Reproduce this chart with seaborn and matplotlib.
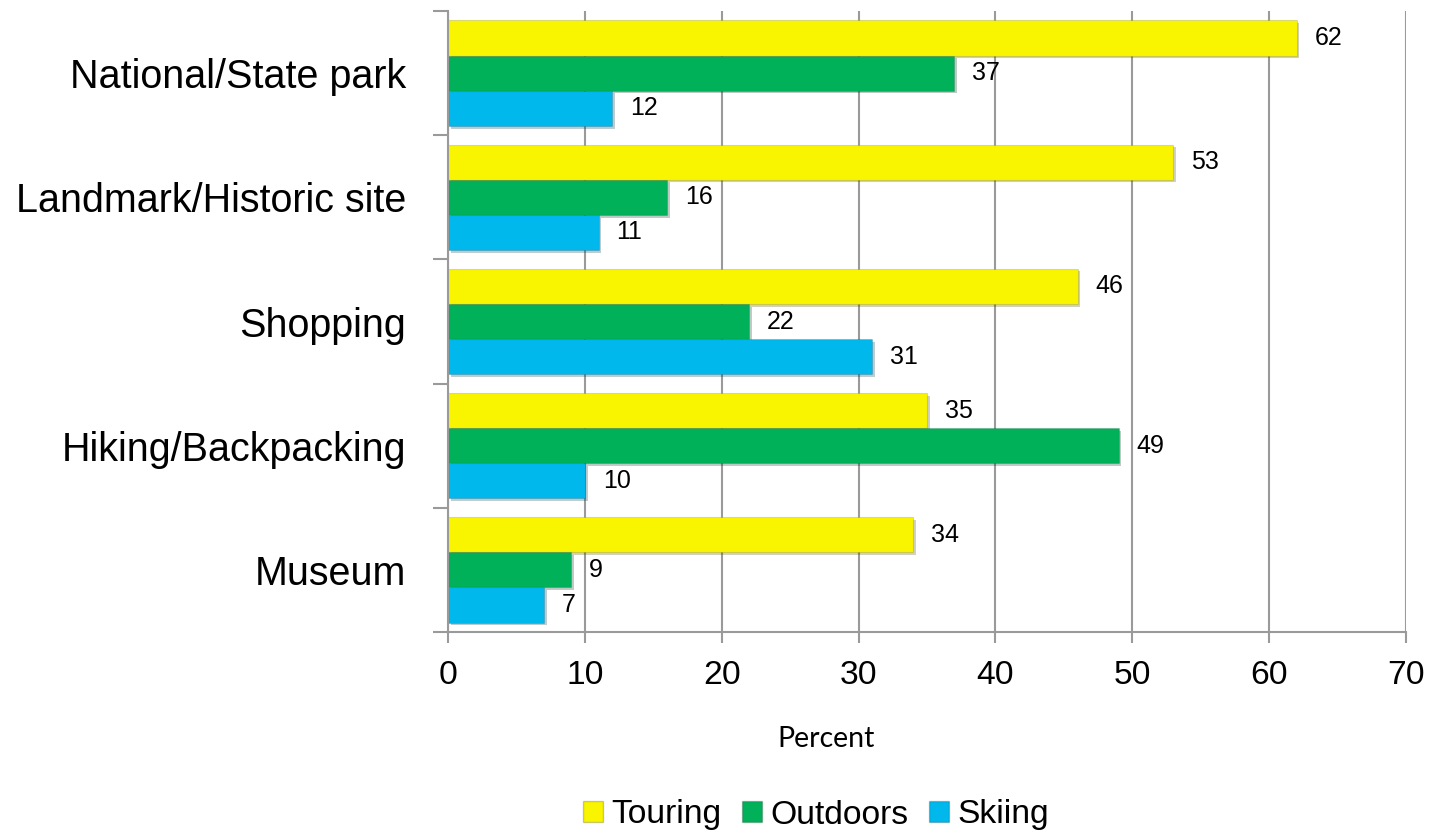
import seaborn as sns
import matplotlib.pyplot as plt
import matplotlib.patheffects as pe
from matplotlib.patches import Patch
from matplotlib import font_manager
import pandas as pd
import numpy as np

categories = ["National/State park", "Landmark/Historic site", "Shopping", "Hiking/Backpacking", "Museum"]
series = ["Touring", "Outdoors", "Skiing"]
touring = [62, 53, 46, 35, 34]
outdoors = [37, 16, 22, 49, 9]
skiing = [12, 11, 31, 10, 7]
colors = ["#F9F500", "#00B15A", "#00B8EC"]
xticks = [0, 10, 20, 30, 40, 50, 60, 70]

rows = []
for name, vals in zip(series, [touring, outdoors, skiing]):
    for c, v in zip(categories, vals):
        rows.append({"category": c, "series": name, "value": v})
df = pd.DataFrame(rows)

try:
    font_manager.findfont("Liberation Sans Narrow", fallback_to_default=False)
    narrow = "Liberation Sans Narrow"
    big = 1.0
except Exception:
    narrow = "Liberation Sans"
    big = 0.85

sns.set_style("white")
plt.rcParams["font.family"] = ["Liberation Sans", "DejaVu Sans"]
plt.rcParams["text.color"] = "black"
plt.rcParams["xtick.labelcolor"] = "black"
plt.rcParams["ytick.labelcolor"] = "black"

fig = plt.figure(figsize=(14.31, 8.33), dpi=100)
ax = fig.add_axes([448 / 1431, 1 - 632 / 833, (1406 - 448) / 1431, (632 - 11) / 833])

sns.barplot(data=df, y="category", x="value", hue="series", order=categories,
            hue_order=series, palette=colors, orient="h", width=0.85,
            saturation=1, legend=False, ax=ax, errorbar=None)

# soft drop shadow like the office chart
for bar in ax.patches:
    bar.set_path_effects([pe.SimplePatchShadow(offset=(2, -2), alpha=0.25), pe.Normal()])
    bar.set_edgecolor((0, 0, 0, 0.12))
    bar.set_linewidth(0.8)

for cont in ax.containers:
    labels = ax.bar_label(cont, fmt="%d", padding=13)
    for t in labels:
        t.set_fontfamily(["Liberation Sans"])
        t.set_fontsize(18)
        t.set_color("black")

ax.set_xlim(0, 70)
ax.set_ylim(4.5, -0.5)
ax.set_xticks(xticks)
ax.set_xticklabels([str(t) for t in xticks], fontsize=28.5 * big, family=narrow)
ax.set_yticklabels(categories, fontsize=33.5 * big, family=narrow)
ax.set_xlabel("")
ax.set_ylabel("")
ax.xaxis.grid(True, color="#9a9a9a", linewidth=1.5)
ax.set_axisbelow(True)
ax.yaxis.grid(False)

ax.set_yticks(np.arange(-0.5, 5, 1), minor=True)
ax.tick_params(axis="y", which="major", length=0, pad=30)
ax.tick_params(axis="y", which="minor", length=11, width=1.5, color="#9a9a9a", direction="out", left=True)
ax.tick_params(axis="x", which="major", length=8, width=1.5, color="#9a9a9a", direction="out", bottom=True, pad=12)

for s in ["top", "right"]:
    ax.spines[s].set_visible(False)
for s in ["left", "bottom"]:
    ax.spines[s].set_color("#9a9a9a")
    ax.spines[s].set_linewidth(1.5)

fig.text(826 / 1431, 1 - 747 / 833, "Percent", fontsize=20.5, family=["Lato", "DejaVu Sans"],
         ha="center", va="baseline")

handles = [Patch(facecolor=c, edgecolor=(0, 0, 0, 0.2), label=n) for c, n in zip(colors, series)]
fig.legend(handles=handles, loc="center", bbox_to_anchor=(816 / 1431, 1 - 815 / 833), ncol=3,
           frameon=False, prop={"family": narrow, "size": 28.5 * big},
           handlelength=0.6, handleheight=0.6, handletextpad=0.25, columnspacing=0.6)

fig.savefig("out.png", dpi=100)
